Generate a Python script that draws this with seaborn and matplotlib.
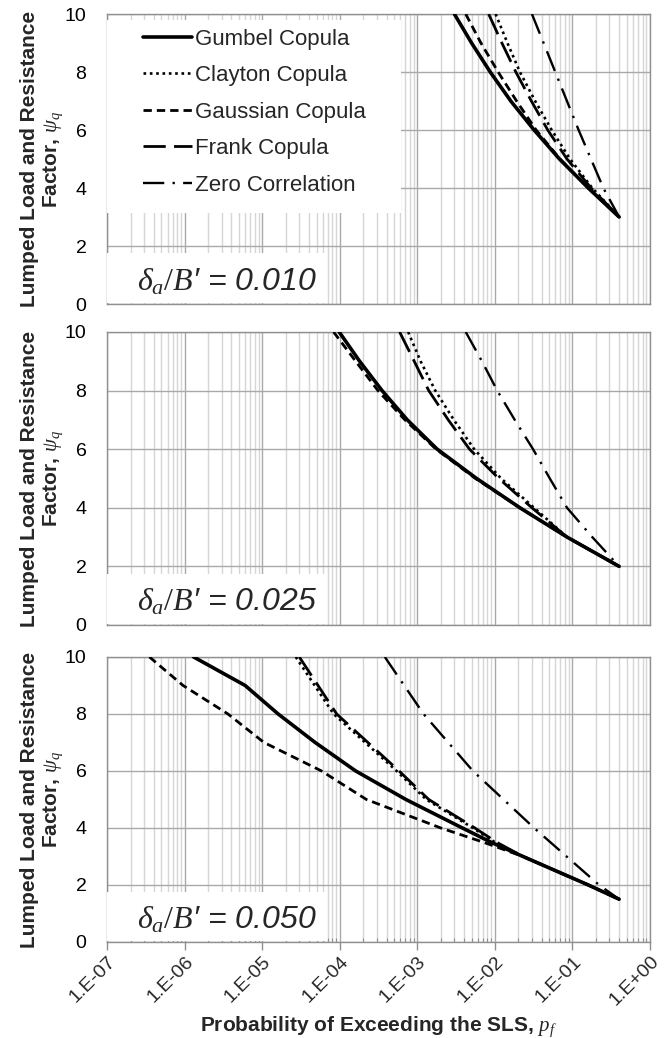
import numpy as np
import pandas as pd
import matplotlib
matplotlib.use("Agg")
import matplotlib.pyplot as plt
from matplotlib.patches import Rectangle
from matplotlib.ticker import FixedLocator, FuncFormatter, NullFormatter
import seaborn as sns

# ---- data (pf = probability, psi = lumped factor) ----
copulas = ["Gumbel Copula", "Clayton Copula", "Gaussian Copula", "Frank Copula", "Zero Correlation"]
ratio_labels = ["0.010", "0.025", "0.050"]

# delta_a/B' = 0.010
pf_gumbel_010 = [3.0e-3, 5.0e-3, 8.7e-3, 1.6e-2, 3.2e-2, 6.8e-2, 0.16, 0.40]
psi_gumbel_010 = [10, 9, 8, 7, 6, 5, 4, 3]
pf_clayton_010 = [1.02e-2, 1.45e-2, 2.1e-2, 3.3e-2, 5.4e-2, 9.3e-2, 0.18, 0.40]
psi_clayton_010 = [10, 9, 8, 7, 6, 5, 4, 3]
pf_gaussian_010 = [4.2e-3, 6.6e-3, 1.1e-2, 1.9e-2, 3.4e-2, 6.9e-2, 0.16, 0.40]
psi_gaussian_010 = [10, 9, 8, 7, 6, 5, 4, 3]
pf_frank_010 = [8.3e-3, 1.23e-2, 1.86e-2, 2.95e-2, 4.8e-2, 8.5e-2, 0.174, 0.40]
psi_frank_010 = [10, 9, 8, 7, 6, 5, 4, 3]
pf_zero_010 = [3.0e-2, 6.0e-2, 0.12, 0.25, 0.40]
psi_zero_010 = [10, 8, 6, 4, 3]

# delta_a/B' = 0.025
pf_gumbel_025 = [9.8e-5, 1.8e-4, 3.5e-4, 7.4e-4, 1.8e-3, 5.8e-3, 2.1e-2, 8.5e-2, 0.40]
psi_gumbel_025 = [10, 9, 8, 7, 6, 5, 4, 3, 2]
pf_clayton_025 = [7.6e-4, 1.1e-3, 1.7e-3, 2.95e-3, 5.4e-3, 1.2e-2, 3.2e-2, 8.5e-2, 0.40]
psi_clayton_025 = [10, 9, 8, 7, 6, 5, 4, 3, 2]
pf_gaussian_025 = [8.3e-5, 1.6e-4, 3.1e-4, 6.9e-4, 1.74e-3, 5.6e-3, 2.1e-2, 8.5e-2, 0.40]
psi_gaussian_025 = [10, 9, 8, 7, 6, 5, 4, 3, 2]
pf_frank_025 = [5.9e-4, 9.1e-4, 1.4e-3, 2.5e-3, 4.7e-3, 1.12e-2, 3.0e-2, 8.5e-2, 0.40]
psi_frank_025 = [10, 9, 8, 7, 6, 5, 4, 3, 2]
pf_zero_025 = [4.2e-3, 6.8e-3, 1.07e-2, 1.8e-2, 3.1e-2, 5.1e-2, 8.5e-2, 0.18, 0.40]
psi_zero_025 = [10, 9, 8, 7, 6, 5, 4, 3, 2]

# delta_a/B' = 0.050
pf_gumbel_050 = [1.3e-6, 6.0e-6, 1.6e-5, 4.8e-5, 1.6e-4, 7.1e-4, 3.8e-3, 8.9e-3, 2.3e-2, 0.16, 0.40]
psi_gumbel_050 = [10, 9, 8, 7, 6, 5, 4, 3.5, 3, 2, 1.5]
pf_clayton_050 = [2.7e-5, 8.3e-5, 5.4e-4, 1.3e-3, 5.2e-3, 1.0e-2, 2.3e-2, 0.16, 0.40]
psi_clayton_050 = [10, 8, 6, 5, 4, 3.5, 3, 2, 1.5]
pf_gaussian_050 = [3.5e-7, 9.5e-7, 3.6e-6, 1.05e-5, 5.8e-5, 2.2e-4, 2.0e-3, 7.1e-3, 2.3e-2, 0.16, 0.40]
psi_gaussian_050 = [10, 9, 8, 7, 6, 5, 4, 3.5, 3, 2, 1.5]
pf_frank_050 = [3.0e-5, 9.1e-5, 5.8e-4, 1.4e-3, 5.5e-3, 1.05e-2, 2.3e-2, 0.16, 0.40]
psi_frank_050 = [10, 8, 6, 5, 4, 3.5, 3, 2, 1.5]
pf_zero_050 = [3.8e-4, 1.2e-3, 5.2e-3, 3.2e-2, 0.22, 0.40]
psi_zero_050 = [10, 8, 6, 4, 2, 1.5]

xticks = [1e-7, 1e-6, 1e-5, 1e-4, 1e-3, 1e-2, 1e-1, 1e0]
yticks = [0, 2, 4, 6, 8, 10]

panels = [
    [(pf_gumbel_010, psi_gumbel_010), (pf_clayton_010, psi_clayton_010), (pf_gaussian_010, psi_gaussian_010),
     (pf_frank_010, psi_frank_010), (pf_zero_010, psi_zero_010)],
    [(pf_gumbel_025, psi_gumbel_025), (pf_clayton_025, psi_clayton_025), (pf_gaussian_025, psi_gaussian_025),
     (pf_frank_025, psi_frank_025), (pf_zero_025, psi_zero_025)],
    [(pf_gumbel_050, psi_gumbel_050), (pf_clayton_050, psi_clayton_050), (pf_gaussian_050, psi_gaussian_050),
     (pf_frank_050, psi_frank_050), (pf_zero_050, psi_zero_050)],
]

line_styles = {
    "Gumbel Copula": dict(lw=2.6, linestyle="-"),
    "Clayton Copula": dict(lw=1.9, linestyle=(0, (1, 1.4))),
    "Gaussian Copula": dict(lw=2.0, linestyle=(0, (3, 1.8))),
    "Frank Copula": dict(lw=2.0, linestyle=(0, (8, 3))),
    "Zero Correlation": dict(lw=1.7, linestyle=(0, (9, 3.5, 1, 3.5))),
}

sns.set_theme(style="white")
plt.rcParams["font.family"] = ["Liberation Sans", "DejaVu Sans"]
plt.rcParams["mathtext.fontset"] = "custom"
plt.rcParams["mathtext.it"] = "Liberation Serif:italic"
plt.rcParams["mathtext.rm"] = "Liberation Serif"

fig = plt.figure(figsize=(6.66, 10.38), dpi=100)
boxes = [
    [0.161, 0.7071, 0.815, 0.2794],
    [0.161, 0.3979, 0.815, 0.2823],
    [0.161, 0.0925, 0.815, 0.2746],
]
axes = [fig.add_axes(b) for b in boxes]

frame_col = "#8f8f8f"
for i, ax in enumerate(axes):
    for name, (pf, psi) in zip(copulas, panels[i]):
        df = pd.DataFrame({"pf": pf, "psi": psi})
        sns.lineplot(data=df, x="pf", y="psi", ax=ax, color="black", sort=False,
                     estimator=None, legend=False, label=name,
                     dash_capstyle="butt", solid_capstyle="round",
                     solid_joinstyle="round", zorder=5,
                     **line_styles[name])

    ax.set_xscale("log")
    ax.set_xlim(1e-7, 1)
    ax.set_ylim(0, 10)
    ax.xaxis.set_major_locator(FixedLocator(xticks))
    ax.xaxis.set_minor_locator(FixedLocator(
        [m * 10.0 ** e for e in range(-7, 0) for m in range(2, 10)]))
    ax.set_yticks(yticks)
    ax.grid(which="major", axis="both", color="#a9a9a9", lw=1.0)
    ax.grid(which="minor", axis="x", color="#d6d6d6", lw=1.0)
    ax.set_axisbelow(True)
    for s in ax.spines.values():
        s.set_color(frame_col)
        s.set_linewidth(1.0)
    ax.tick_params(axis="y", length=0, pad=15, labelsize=14, colors="black")
    ax.set_ylabel("Lumped Load and Resistance\nFactor, $\\psi_q$", fontsize=15,
                  fontweight="bold", linespacing=1.15)
    ax.yaxis.set_label_coords(-0.078, 0.5)

    # white box behind the ratio annotation
    ax.add_patch(Rectangle((0, 0.003), 0.405, 0.172, transform=ax.transAxes,
                           facecolor="white", edgecolor="none", zorder=3))
    ax.text(0.055, 0.048, "$\\delta_a/B$\u2032 = " + ratio_labels[i], transform=ax.transAxes,
            fontsize=23, fontstyle="italic", ha="left", va="baseline", zorder=6)

    if i < 2:
        ax.tick_params(axis="x", which="both", length=0, labelbottom=False)
        ax.xaxis.set_minor_formatter(NullFormatter())
        ax.set_xlabel("")
    else:
        ax.xaxis.set_major_formatter(FuncFormatter(
            lambda v, p: "1.E{:+03d}".format(int(round(np.log10(v))))))
        ax.xaxis.set_minor_formatter(NullFormatter())
        ax.tick_params(axis="x", which="major", direction="out", length=6, width=1,
                       color=frame_col, labelsize=14, pad=2, bottom=True)
        ax.tick_params(axis="x", which="minor", direction="in", length=3, width=0.8,
                       color=frame_col, bottom=True)
        for lab in ax.get_xticklabels():
            lab.set_rotation(45)
            lab.set_ha("right")
            lab.set_rotation_mode("anchor")
        ax.set_xlabel("Probability of Exceeding the SLS, $p_f$", fontsize=15,
                      fontweight="bold", labelpad=4)

# legend in the top panel, on a white patch
ax0 = axes[0]
ax0.add_patch(Rectangle((0, 0.314), 0.541, 0.665, transform=ax0.transAxes,
                        facecolor="white", edgecolor="none", zorder=3))
handles = ax0.get_lines()[:5]
leg = ax0.legend(handles, copulas, loc="upper left", bbox_to_anchor=(0.066, 0.950),
                 borderaxespad=0, borderpad=0, frameon=False, fontsize=16,
                 handlelength=2.2, handletextpad=0.12, labelspacing=0.7)
leg.set_zorder(7)

fig.savefig("out.png", dpi=100)
